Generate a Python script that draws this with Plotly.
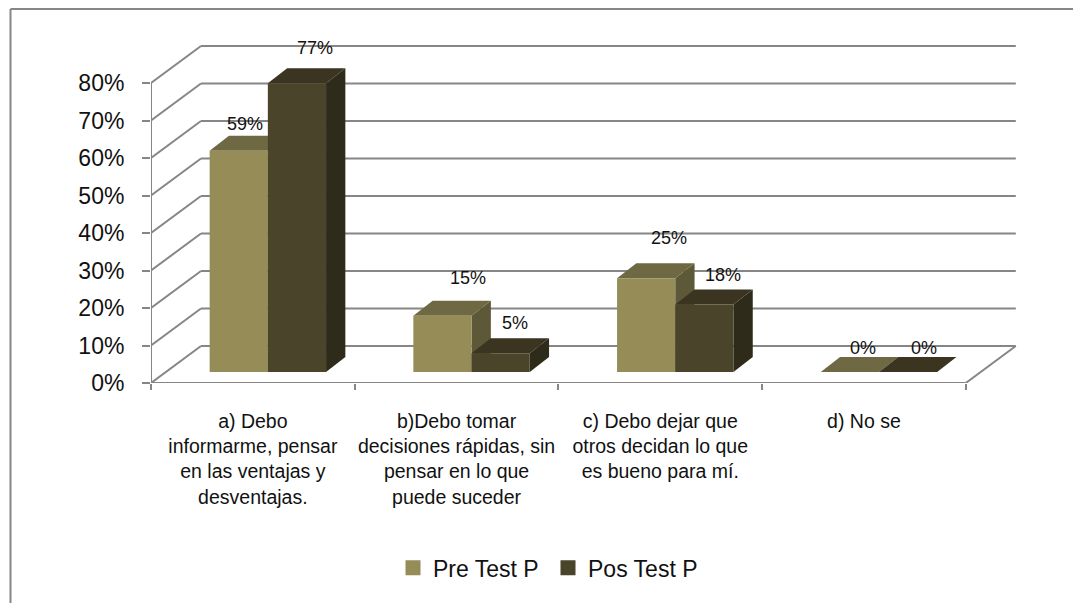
import plotly.graph_objects as go

# Read in the data
categories = ['a) Debo<br>informarme, pensar<br>en las ventajas y<br>desventajas.',
              'b)Debo tomar<br>decisiones rápidas, sin<br>pensar en lo que<br>puede suceder',
              'c) Debo dejar que<br>otros decidan lo que<br>es bueno para mí.',
              'd) No se']
pre_test = [59, 15, 25, 0]
pos_test = [77, 5, 18, 0]
y_ticks = [0, 10, 20, 30, 40, 50, 60, 70, 80]
y_labels = ['0%', '10%', '20%', '30%', '40%', '50%', '60%', '70%', '80%']

# pixel scale of the plot area: 203.7 px per category, 3.75 px per percent
PX_X = 203.7
PX_Y = 3.75
WALL_DX = 50 / PX_X
WALL_DY = 37 / PX_Y
BAR_W = 58.2 / PX_X
BAR_SHIFT = 15 / PX_X
BAR_BASE = 11 / PX_Y
DEPTH_X = 19.3 / PX_X
DEPTH_Y = 15 / PX_Y

GREY = '#868686'
colors_pre = dict(front='#958c57', top='#6f6943', side='#5d5837')
colors_pos = dict(front='#4a442a', top='#3a3420', side='#2f2b1a')

shapes = []


def line(x0, y0, x1, y1):
    shapes.append(dict(type='line', xref='x', yref='y', x0=x0, y0=y0, x1=x1, y1=y1,
                       layer='below', line=dict(color=GREY, width=2)))


def face(points, color):
    path = 'M' + 'L'.join(f'{px},{py}' for px, py in points) + 'Z'
    shapes.append(dict(type='path', xref='x', yref='y', path=path, layer='below',
                       fillcolor=color, line=dict(width=0)))


# walls
for v in y_ticks:
    line(0, v, WALL_DX, v + WALL_DY)
    line(WALL_DX, v + WALL_DY, 4 + WALL_DX, v + WALL_DY)
line(4, 0, 4 + WALL_DX, WALL_DY)
line(0, 0, 4, 0)
line(0, 0, 0, 80)


def bar_faces(values, left_of_center, colors):
    for i, v in enumerate(values):
        x0 = i + 0.5 + BAR_SHIFT + (-BAR_W if left_of_center else 0)
        x1 = x0 + BAR_W
        y0 = BAR_BASE
        y1 = BAR_BASE + v
        face([(x1, y0), (x1 + DEPTH_X, y0 + DEPTH_Y), (x1 + DEPTH_X, y1 + DEPTH_Y), (x1, y1)], colors['side'])
        face([(x0, y1), (x1, y1), (x1 + DEPTH_X, y1 + DEPTH_Y), (x0 + DEPTH_X, y1 + DEPTH_Y)], colors['top'])


bar_faces(pre_test, True, colors_pre)
bar_faces(pos_test, False, colors_pos)

# frame of the picture, only top and left are there
shapes.append(dict(type='line', xref='paper', yref='paper', x0=(10.5 - 151) / 867, x1=(1081 - 151) / 867,
                   y0=(383 - 9) / 345, y1=(383 - 9) / 345, line=dict(color=GREY, width=2)))
shapes.append(dict(type='line', xref='paper', yref='paper', x0=(10.5 - 151) / 867, x1=(10.5 - 151) / 867,
                   y0=(383 - 9) / 345, y1=(383 - 603) / 345, line=dict(color=GREY, width=2)))

xs = [i + 0.5 + BAR_SHIFT for i in range(4)]

fig = go.Figure()
fig.add_trace(go.Bar(x=[x - BAR_W / 2 for x in xs], y=pre_test, base=BAR_BASE, width=BAR_W, showlegend=False,
                     legendgroup='pre', name='Pre Test P', marker=dict(color=colors_pre['front'], line=dict(width=0))))
fig.add_trace(go.Bar(x=[x + BAR_W / 2 for x in xs], y=pos_test, base=BAR_BASE, width=BAR_W, showlegend=False,
                     legendgroup='pos', name='Pos Test P', marker=dict(color=colors_pos['front'], line=dict(width=0))))
# legend entries, the bar swatch is too small
fig.add_trace(go.Scatter(x=[None], y=[None], mode='markers', legendgroup='pre', name='Pre Test P',
                         marker=dict(symbol='square', size=15, color=colors_pre['front'])))
fig.add_trace(go.Scatter(x=[None], y=[None], mode='markers', legendgroup='pos', name='Pos Test P',
                         marker=dict(symbol='square', size=15, color=colors_pos['front'])))

# Excel put the data labels a bit all over the place
pre_shift = [(6.6, 27), (26, 38), (23, 40), (13, 24)]
pos_shift = [(18.5, 35), (14, 30), (19, 30), (16, 24)]
annotations = []
for i, x in enumerate(xs):
    annotations.append(dict(x=x - BAR_W / 2, y=BAR_BASE + pre_test[i], text=f'{pre_test[i]}%', showarrow=False,
                            xshift=pre_shift[i][0], yshift=pre_shift[i][1]))
    annotations.append(dict(x=x + BAR_W / 2, y=BAR_BASE + pos_test[i], text=f'{pos_test[i]}%', showarrow=False,
                            xshift=pos_shift[i][0], yshift=pos_shift[i][1]))

# the page has an 8 px body margin, so the figure is 8 px smaller than the window
fig.update_layout(
    width=1073, height=595,
    margin=dict(l=143, r=63, t=30, b=220, autoexpand=False),
    paper_bgcolor='white', plot_bgcolor='white',
    font=dict(family='Liberation Sans', color='#111111', size=18),
    barmode='overlay',
    shapes=shapes,
    annotations=annotations,
    showlegend=True,
    legend=dict(orientation='h', x=(393 - 151) / 867, xanchor='left', y=-0.536, yanchor='middle',
                entrywidth=110, font=dict(size=23), bgcolor='rgba(0,0,0,0)'),
    xaxis=dict(range=[0, 867 / PX_X], tickvals=[0.5, 1.5, 2.5, 3.5], ticktext=categories, showgrid=False,
               zeroline=False, showline=False, ticks='', ticklabelstandoff=24, automargin=False,
               tickfont=dict(size=19.5),
               minor=dict(tickvals=[0, 1, 2, 3, 4], ticks='outside', ticklen=6, tickwidth=2, tickcolor=GREY, showgrid=False)),
    yaxis=dict(range=[0, 345 / PX_Y], tickvals=y_ticks, ticktext=y_labels, showgrid=False, zeroline=False, showline=False,
               ticks='outside', ticklen=8, tickwidth=2, tickcolor=GREY, automargin=False, ticklabelstandoff=13,
               tickfont=dict(size=23)),
)

fig.write_html("out.html")
